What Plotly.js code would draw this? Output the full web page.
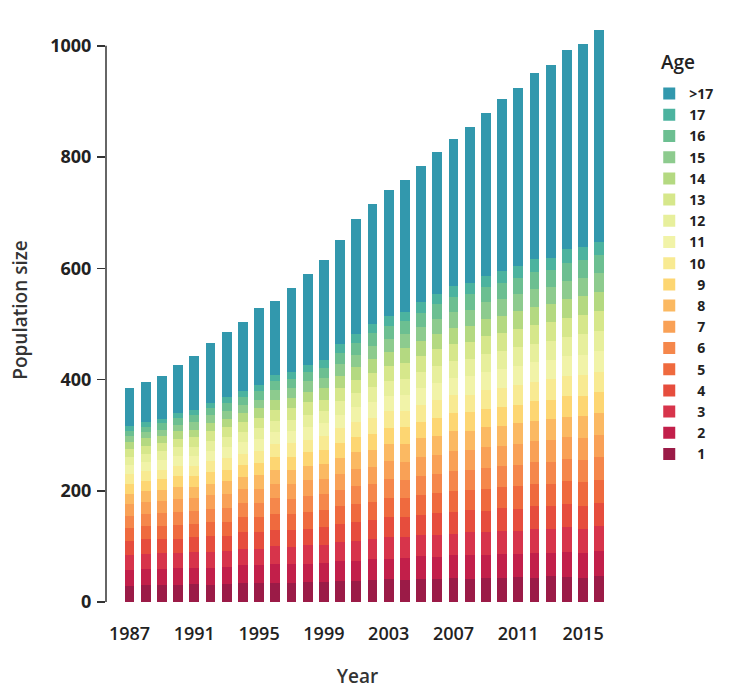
<!DOCTYPE html>
<html>
<head>
<meta charset="utf-8">
<script src="https://cdn.plot.ly/plotly-3.0.1.min.js"></script>
<style>html,body{margin:0;padding:0;background:#fff;}#chart{width:731px;height:689px;}</style>
</head>
<body>
<div id="chart"></div>
<script>
const years = [1987,1988,1989,1990,1991,1992,1993,1994,1995,1996,1997,1998,1999,2000,2001,2002,2003,2004,2005,2006,2007,2008,2009,2010,2011,2012,2013,2014,2015,2016];
const yearTicks = [1987,1991,1995,1999,2003,2007,2011,2015];
const ageLabels = ['1','2','3','4','5','6','7','8','9','10','11','12','13','14','15','16','17','>17'];

const age1  = [29,31,31,31,32,31,32,34,34,35,34,36,36,38,37,39,41,40,42,41,43,42,44,43,45,44,46,45,44,47];
const age2  = [29,28,29,30,30,31,31,32,32,33,34,33,35,35,37,38,37,39,40,40,41,42,41,43,42,44,43,45,44,45];
const age3  = [26,28,28,27,28,28,28,30,30,32,31,33,32,35,35,36,38,37,38,40,39,41,40,42,41,43,42,44,43,44];
const age4  = [25,26,25,26,26,28,27,29,29,30,31,30,32,33,35,34,36,37,36,39,38,40,39,41,40,42,41,43,42,42];
const age5  = [24,24,24,25,25,26,26,27,27,29,28,30,30,31,33,33,35,34,36,36,38,37,39,38,40,39,41,40,42,41];
const age6  = [22,22,23,23,23,24,25,26,26,28,27,29,29,30,32,32,34,33,35,35,37,36,38,38,38,40,39,41,40,41];
const age7  = [21,21,22,23,23,24,25,25,26,26,27,28,27,29,31,31,33,32,34,34,36,35,37,36,38,37,39,38,40,40];
const age8  = [19,19,20,21,20,21,23,22,24,24,26,25,27,28,29,30,30,32,33,33,35,34,36,35,37,36,38,37,39,39];
const age9  = [18,19,19,20,20,21,21,22,22,24,23,25,25,26,28,29,29,31,30,33,32,34,33,35,34,36,35,37,36,38];
const age10 = [17,18,17,18,18,19,21,20,22,23,24,23,25,27,27,29,30,29,31,32,33,32,35,34,36,35,37,36,38,37];
const age11 = [16,16,17,18,18,19,19,20,21,21,22,23,23,25,26,28,28,29,30,31,31,33,32,34,33,35,34,36,37,37];
const age12 = [15,15,16,16,16,18,18,19,19,21,21,22,22,24,25,27,27,28,29,30,30,31,32,32,34,33,35,34,36,36];
const age13 = [14,14,15,15,17,17,18,18,19,20,20,22,21,24,25,26,26,28,28,30,30,31,32,32,33,34,33,35,35,36];
const age14 = [12,13,12,14,14,15,15,16,17,18,19,19,21,22,23,25,25,27,27,28,30,29,31,31,32,33,32,34,35,34];
const age15 = [11,11,12,12,14,14,15,15,16,17,17,19,18,21,22,24,24,25,26,27,28,28,30,30,31,31,32,33,32,34];
const age16 = [10,10,11,11,13,12,14,13,15,16,17,17,18,20,21,23,23,24,25,26,27,28,28,30,29,31,30,32,32,33];
const age17 = [8,8,8,9,9,10,10,11,11,12,13,12,14,15,16,16,18,17,19,19,20,21,20,22,21,23,22,24,23,24];
const ageOver17 = [68,72,77,87,96,107,117,125,138,133,151,164,180,188,207,215,226,236,245,255,264,280,292,308,321,335,346,358,365,380];

const ageSeries = [age1,age2,age3,age4,age5,age6,age7,age8,age9,age10,age11,age12,age13,age14,age15,age16,age17,ageOver17];
const ageColors = ['#9b1b47','#c21f4a','#d7344b','#e64d3d','#ef6a3e','#f5874b','#f9a156','#fbb962','#fdd672','#f8ea92','#f1f3a8','#e7ef9c','#d6e78b','#b4d981','#8dcb8e','#6cbf91','#4cb39f','#3298ad'];

const traces = ageSeries.map((vals, i) => ({
  type: 'bar',
  x: years,
  y: vals,
  name: ageLabels[i].length === 1 ? '\u2007' + ageLabels[i] : ageLabels[i],
  marker: {color: ageColors[i], line: {width: 0}},
  hoverinfo: 'x+y+name'
}));

const fontFam = '"Open Sans", "Liberation Sans", sans-serif';
const layout = {
  width: 731, height: 689,
  margin: {l: 106, r: 111, t: 18, b: 87},
  paper_bgcolor: '#fff', plot_bgcolor: '#fff',
  barmode: 'stack',
  bargap: 0.4,
  font: {family: fontFam, color: '#222'},
  xaxis: {
    range: [1985.55, 2016.6],
    tickvals: yearTicks,
    ticktext: yearTicks.map(String),
    ticks: '', showline: false, showgrid: false, zeroline: false,
    tickfont: {size: 18, weight: 600, color: '#222'},
    ticklabelstandoff: 19,
    title: {text: 'Year', font: {size: 19, weight: 600, color: '#333'}, standoff: 28}
  },
  yaxis: {
    range: [0, 1050],
    tickvals: [0,200,400,600,800,1000],
    ticks: 'outside', ticklen: 8, tickwidth: 1.5, tickcolor: '#333',
    showline: false, showgrid: false, zeroline: false,
    tickfont: {size: 18, weight: 700, color: '#222'},
    ticklabelstandoff: 2,
    title: {text: 'Population size', font: {size: 19, weight: 600, color: '#333'}, standoff: 17}
  },
  shapes: [{
    type: 'line', xref: 'paper', yref: 'y',
    x0: 0, x1: 0, y0: 0, y1: 1000,
    line: {color: '#333', width: 1.5}
  }],
  annotations: [{
    text: 'Age', xref: 'paper', yref: 'paper',
    x: (671 - 106) / 514, xanchor: 'left',
    y: 1 - (62 - 18) / 584, yanchor: 'middle',
    showarrow: false,
    font: {family: fontFam, size: 19, weight: 600, color: '#222'}
  }],
  showlegend: true,
  legend: {
    x: 1.08, xanchor: 'left', y: 1 - (78 - 18) / 584, yanchor: 'top',
    traceorder: 'reversed',
    font: {size: 14, weight: 700, color: '#222'},
    bgcolor: 'rgba(0,0,0,0)',
    itemwidth: 30
  }
};

Plotly.newPlot('chart', traces, layout, {displayModeBar: false, staticPlot: true});
</script>
</body>
</html>
